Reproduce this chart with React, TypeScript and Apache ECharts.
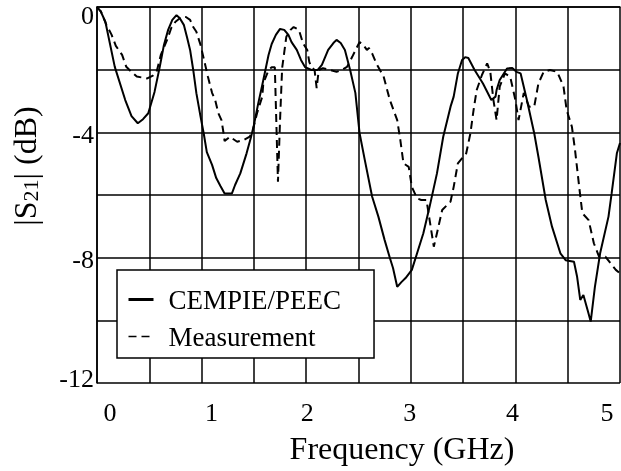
import React, { useEffect, useRef } from 'react';
import * as echarts from 'echarts';

// Frequency (GHz), |S21| (dB)
const cempiePeec: [number, number][] = [
  [0.03,-0.10],[0.08,-0.47],[0.17,-1.91],[0.27,-2.97],[0.33,-3.48],[0.39,-3.71],[0.44,-3.58],[0.49,-3.39],
  [0.55,-2.71],[0.60,-1.91],[0.64,-1.21],[0.68,-0.73],[0.72,-0.41],[0.76,-0.26],[0.79,-0.35],[0.83,-0.57],
  [0.86,-0.96],[0.89,-1.37],[0.92,-2.01],[0.95,-2.75],[0.99,-3.50],[1.02,-4.03],[1.05,-4.63],[1.10,-5.04],
  [1.14,-5.46],[1.18,-5.71],[1.22,-5.95],[1.29,-5.95],[1.32,-5.68],[1.37,-5.31],[1.43,-4.67],[1.47,-4.18],
  [1.50,-3.77],[1.54,-3.10],[1.58,-2.49],[1.61,-2.01],[1.64,-1.53],[1.67,-1.18],[1.71,-0.89],[1.75,-0.70],
  [1.79,-0.73],[1.83,-0.89],[1.86,-1.12],[1.91,-1.37],[1.95,-1.69],[1.99,-1.92],[2.05,-2.01],[2.11,-2.01],
  [2.15,-1.85],[2.21,-1.37],[2.26,-1.15],[2.29,-1.05],[2.33,-1.15],[2.37,-1.37],[2.42,-2.01],[2.47,-2.74],
  [2.51,-4.02],[2.56,-4.88],[2.63,-6.05],[2.69,-6.69],[2.75,-7.44],[2.80,-8.01],[2.83,-8.33],[2.87,-8.93],
  [2.91,-8.78],[2.95,-8.65],[3.01,-8.39],[3.06,-7.86],[3.12,-7.22],[3.18,-6.37],[3.25,-5.31],[3.31,-4.14],
  [3.38,-3.18],[3.41,-2.86],[3.45,-2.12],[3.49,-1.69],[3.52,-1.60],[3.55,-1.63],[3.61,-2.01],[3.69,-2.44],
  [3.77,-2.97],[3.81,-2.86],[3.82,-2.65],[3.85,-2.33],[3.92,-1.96],[3.97,-1.95],[4.01,-2.07],[4.05,-2.12],
  [4.11,-2.97],[4.18,-4.03],[4.22,-4.78],[4.29,-6.16],[4.35,-7.01],[4.43,-7.86],[4.48,-8.08],[4.56,-8.13],
  [4.59,-8.61],[4.62,-9.35],[4.65,-9.19],[4.69,-9.67],[4.72,-10.04],[4.76,-8.93],[4.81,-7.86],[4.89,-6.69],
  [4.92,-5.95],[4.97,-4.67],[5.00,-4.34],
];

const measurement: [number, number][] = [
  [0.00,0.00],[0.04,-0.16],[0.09,-0.57],[0.14,-0.89],[0.18,-1.24],[0.24,-1.53],[0.28,-1.91],[0.33,-2.07],
  [0.38,-2.22],[0.48,-2.28],[0.53,-2.20],[0.57,-2.07],[0.61,-1.53],[0.67,-1.05],[0.71,-0.67],[0.75,-0.47],
  [0.81,-0.31],[0.85,-0.32],[0.89,-0.41],[0.92,-0.64],[0.95,-0.79],[0.99,-1.21],[1.02,-1.64],[1.06,-2.22],
  [1.10,-2.74],[1.13,-2.97],[1.16,-3.39],[1.19,-3.61],[1.21,-4.03],[1.22,-4.28],[1.27,-4.14],[1.34,-4.30],
  [1.40,-4.25],[1.46,-4.14],[1.49,-3.93],[1.53,-3.39],[1.58,-2.86],[1.59,-2.44],[1.64,-2.01],[1.67,-1.92],
  [1.70,-1.92],[1.73,-5.58],[1.75,-3.61],[1.77,-1.95],[1.81,-0.95],[1.85,-0.73],[1.88,-0.64],[1.93,-0.73],
  [1.97,-1.16],[2.01,-1.37],[2.03,-1.76],[2.05,-1.92],[2.08,-2.01],[2.10,-2.59],[2.12,-2.01],[2.16,-1.95],
  [2.23,-2.01],[2.29,-2.07],[2.34,-2.01],[2.39,-1.91],[2.44,-1.59],[2.48,-1.32],[2.51,-1.12],[2.54,-1.18],
  [2.58,-1.37],[2.60,-1.31],[2.63,-1.48],[2.67,-1.80],[2.74,-2.22],[2.80,-2.97],[2.87,-3.61],[2.90,-4.25],
  [2.93,-4.99],[2.98,-5.10],[3.01,-5.74],[3.06,-6.11],[3.10,-6.16],[3.15,-6.16],[3.18,-6.80],[3.22,-7.65],
  [3.25,-7.22],[3.30,-6.48],[3.38,-6.21],[3.41,-5.74],[3.45,-4.99],[3.53,-4.67],[3.57,-4.03],[3.60,-3.29],
  [3.63,-2.65],[3.68,-2.17],[3.73,-1.80],[3.76,-2.07],[3.79,-2.97],[3.82,-3.61],[3.85,-2.54],[3.90,-2.12],
  [3.95,-2.22],[4.00,-2.97],[4.03,-3.61],[4.08,-2.74],[4.13,-3.18],[4.18,-3.18],[4.22,-2.44],[4.27,-2.07],
  [4.33,-2.01],[4.40,-2.07],[4.46,-2.54],[4.49,-3.29],[4.54,-3.82],[4.57,-4.56],[4.61,-5.74],[4.64,-6.58],
  [4.70,-6.80],[4.75,-7.54],[4.80,-7.97],[4.86,-7.97],[4.91,-8.18],[4.96,-8.39],[5.00,-8.50],
];

const seriesNames = ['CEMPIE/PEEC', 'Measurement'];
const xLabelTicks = [0, 1, 2, 3, 4, 5];
const xTickLabels = ['0', '1', '2', '3', '4', '5'];
const yLabelTicks = [0, -4, -8, -12];
const yTickLabels = ['0', '-4', '-8', '-12'];

export default function App() {
  const ref = useRef<HTMLDivElement>(null);
  useEffect(() => {
    const chart = echarts.init(ref.current!, null, { renderer: 'svg' });
    const font = 'Liberation Serif';
    const xShift = [13, 10, 1, -1, -3, -13];
    const yShift = [8, 2, 2, -5];
    const xRich: any = {};
    xShift.forEach((s, i) => {
      xRich['x' + i] = {
        fontFamily: font, fontSize: 26, color: '#000',
        padding: s >= 0 ? [0, 0, 0, 2 * s] : [0, -2 * s, 0, 0],
      };
    });
    const yRich: any = {};
    yShift.forEach((s, i) => {
      yRich['y' + i] = {
        fontFamily: font, fontSize: 26, color: '#000',
        padding: s >= 0 ? [2 * s, 0, 0, 0] : [0, 0, -2 * s, 0],
      };
    });
    chart.setOption({
      animation: false,
      grid: { left: 97, right: 1, top: 7, bottom: 88 },
      xAxis: {
        type: 'value', min: 0, max: 5, interval: 0.5,
        axisLine: { show: true, lineStyle: { color: '#000', width: 1.5 } },
        axisTick: { show: false },
        splitLine: { show: true, lineStyle: { color: '#000', width: 1.5 } },
        axisLabel: {
          margin: 16, fontFamily: font, fontSize: 26, color: '#000',
          showMinLabel: true, showMaxLabel: true,
          formatter: (v: number) => {
            const i = xLabelTicks.indexOf(v);
            return i < 0 ? '' : `{x${i}|${xTickLabels[i]}}`;
          },
          rich: xRich,
        },
      },
      yAxis: {
        type: 'value', min: -12, max: 0, interval: 2,
        axisLine: { show: true, lineStyle: { color: '#000', width: 1.5 } },
        axisTick: { show: false },
        splitLine: { show: true, lineStyle: { color: '#000', width: 1.5 } },
        axisLabel: {
          margin: 3, fontFamily: font, fontSize: 26, color: '#000',
          showMinLabel: true, showMaxLabel: true,
          formatter: (v: number) => {
            const i = yLabelTicks.indexOf(v);
            return i < 0 ? '' : `{y${i}|${yTickLabels[i]}}`;
          },
          rich: yRich,
        },
      },
      legend: {
        orient: 'vertical', left: 117, top: 270,
        data: [
          { name: seriesNames[0], lineStyle: { width: 3 } },
          { name: seriesNames[1], lineStyle: { width: 1.5 } },
        ],
        backgroundColor: '#fff', borderColor: '#000', borderWidth: 1.5, borderRadius: 0,
        padding: [16, 33, 8, 10],
        itemGap: 10, itemWidth: 25, itemHeight: 14,
        itemStyle: { opacity: 0, borderWidth: 0, color: 'transparent' },
        textStyle: { fontFamily: font, fontSize: 27, color: '#000', lineHeight: 27, padding: [0, 0, 0, 10] },
      },
      graphic: [
        {
          type: 'text', x: 402, y: 448,
          style: {
            text: 'Frequency (GHz)', fontFamily: font, fontSize: 32, fill: '#000',
            align: 'center', verticalAlign: 'middle',
          },
        },
        {
          type: 'text', x: 25, y: 166, rotation: Math.PI / 2,
          style: {
            text: '{m||S}{s|21}{m|| (dB)}',
            fontFamily: font, fontSize: 32, fill: '#000',
            align: 'center', verticalAlign: 'middle',
            rich: {
              m: { fontFamily: font, fontSize: 32, fill: '#000', color: '#000' },
              s: { fontFamily: font, fontSize: 22, fill: '#000', color: '#000', verticalAlign: 'bottom' },
            },
          },
        },
      ],
      series: [
        {
          name: seriesNames[0], type: 'line', data: cempiePeec, symbol: 'none', showSymbol: false,
          lineStyle: { color: '#000', width: 2 }, itemStyle: { color: '#000' }, z: 3,
        },
        {
          name: seriesNames[1], type: 'line', data: measurement, symbol: 'none', showSymbol: false,
          lineStyle: { color: '#000', width: 2, type: [8, 5] }, itemStyle: { color: '#000' }, z: 3,
        },
      ],
    });
    return () => chart.dispose();
  }, []);
  return <div ref={ref} style={{ position: 'fixed', left: 0, top: 0, width: 621, height: 471 }} />;
}
